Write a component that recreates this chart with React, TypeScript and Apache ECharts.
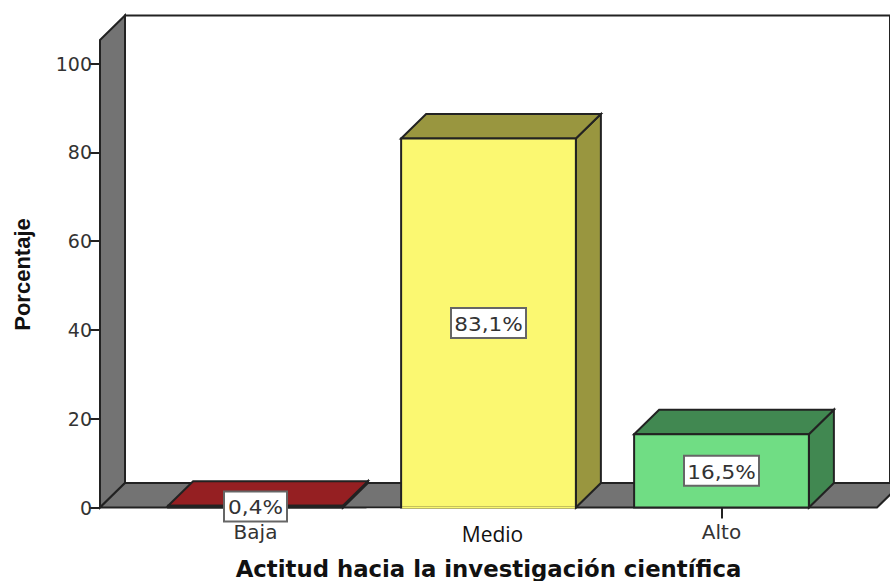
import React, { useEffect, useRef } from "react";
import * as echarts from "echarts";

const categories = ["Baja", "Medio", "Alto"];
const values = [0.4, 83.1, 16.5];
const labelTexts = ["0,4%", "83,1%", "16,5%"];
const frontColors = ["#8f1d20", "#fbf871", "#70dd84"];
const topColors = ["#951f22", "#99963f", "#418851"];
const sideColors = ["#951f22", "#99963f", "#418851"];
const yTicks = { min: 0, max: 100, interval: 20 };
const wallTopValue = 105.3;
const xAxisTitle = "Actitud hacia la investigación científica";
const yAxisTitle = "Porcentaje";

const DEPTH_X = 25;
const DEPTH_Y = 24.5;
const INK = "#222222";
const WALL = "#737373";

export default function App() {
  const ref = useRef<HTMLDivElement>(null);
  useEffect(() => {
    document.body.style.margin = "0";
    const chart = echarts.init(ref.current!, undefined, { renderer: "svg" });
    const poly = (points: number[][], fill: string, w = 2) => ({
      type: "polygon",
      shape: { points },
      style: { fill, stroke: INK, lineWidth: w, lineJoin: "miter" },
    });
    chart.setOption({
      animation: false,
      backgroundColor: "#ffffff",
      grid: { left: 139, right: 52, top: 63.5, height: 444, containLabel: false, outerBoundsMode: "none" },
      xAxis: {
        type: "category",
        data: categories,
        axisLine: { show: false },
        axisTick: {
          show: true,
          length: 11,
          alignWithLabel: true,
          interval: (i: number) => i !== 1,
          lineStyle: { color: INK, width: 2 },
        },
        axisLabel: {
          margin: 14,
          interval: 0,
          formatter: (v: string) => (v === "Medio" ? `{m|${v}}` : `{a|${v}}`),
          rich: {
            a: { fontFamily: "DejaVu Sans", fontSize: 20, color: "#333333" },
            m: { fontFamily: "Open Sans", fontSize: 21, color: "#111111", padding: [2, 0, 0, 8] },
          },
        },
        name: xAxisTitle,
        nameLocation: "center",
        nameGap: 50,
        nameTextStyle: { fontFamily: "DejaVu Sans", fontWeight: "bold", fontSize: 22.8, color: "#111111" },
      },
      yAxis: {
        type: "value",
        min: yTicks.min,
        max: yTicks.max,
        interval: yTicks.interval,
        offset: 39,
        splitLine: { show: false },
        axisLine: { show: false },
        axisTick: { show: true, length: 11, lineStyle: { color: INK, width: 2 } },
        axisLabel: { margin: 8, fontFamily: "DejaVu Sans", fontSize: 19, color: "#333333" },
        name: yAxisTitle,
        nameLocation: "center",
        nameGap: 67,
        nameTextStyle: {
          fontFamily: "Liberation Sans",
          fontWeight: "bold",
          fontSize: 22,
          color: "#111111",
          padding: [0, 0, 0, 22],
        },
      },
      series: [
        {
          type: "custom",
          name: "frame",
          z: 1,
          silent: true,
          clip: false,
          data: [[0]],
          renderItem: (params: any, api: any) => {
            const c = params.coordSys;
            const y0 = api.coord([0, 0])[1];
            const yTop = api.coord([0, wallTopValue])[1];
            const band = c.width / 3;
            const left = c.x - 39;
            const right = c.x + c.width + 39;
            const gapStart = api.coord([1, 0])[0] - band / 2 - 5.5;
            const bw = band * 0.75;
            const midRight = api.coord([1, 0])[0] + bw / 2;
            return {
              type: "group",
              children: [
                poly([[left + DEPTH_X, yTop - DEPTH_Y], [890, yTop - DEPTH_Y], [890, y0 - DEPTH_Y], [left + DEPTH_X, y0 - DEPTH_Y]], "#ffffff"),
                poly([[left, yTop], [left + DEPTH_X, yTop - DEPTH_Y], [left + DEPTH_X, y0 - DEPTH_Y], [left, y0]], WALL),
                poly([[left, y0], [left + DEPTH_X, y0 - DEPTH_Y], [right + DEPTH_X, y0 - DEPTH_Y], [right, y0]], WALL),
                {
                  type: "rect",
                  shape: { x: gapStart, y: y0 + 1, width: midRight - gapStart, height: 4 },
                  style: { fill: "#ffffff" },
                },
              ],
            };
          },
        },
        {
          type: "custom",
          name: "Porcentaje",
          z: 2,
          clip: false,
          data: values.map((v, i) => [i, v]),
          renderItem: (params: any, api: any) => {
            const i = params.dataIndex;
            const [cx, yv] = api.coord([api.value(0), api.value(1)]);
            const y0 = api.coord([api.value(0), 0])[1];
            const bw = api.size([1, 0])[0] * 0.75;
            const l = cx - bw / 2;
            const r = cx + bw / 2;
            const children: any[] = [
              poly([[r, yv], [r + DEPTH_X, yv - DEPTH_Y], [r + DEPTH_X, y0 - DEPTH_Y], [r, y0]], sideColors[i]),
              poly([[l, yv], [l + DEPTH_X, yv - DEPTH_Y], [r + DEPTH_X, yv - DEPTH_Y], [r, yv]], topColors[i]),
              {
                type: "rect",
                shape: { x: l, y: yv, width: r - l, height: y0 - yv },
                style: { fill: frontColors[i], stroke: INK, lineWidth: 2 },
              },
            ];
            if (i === 1) {
              children.push({
                type: "line",
                shape: { x1: l + 1, y1: y0, x2: r - 1, y2: y0 },
                style: { stroke: frontColors[i], lineWidth: 2 },
              });
            }
            return { type: "group", children };
          },
        },
        {
          type: "custom",
          name: "etiquetas",
          z: 5,
          clip: false,
          silent: true,
          data: values.map((v, i) => [i, v]),
          renderItem: (params: any, api: any) => {
            const i = params.dataIndex;
            const [cx, cy] = api.coord([api.value(0), api.value(1) / 2]);
            const text = labelTexts[i];
            const w = text.length === 4 ? 63 : 75;
            const h = 30;
            return {
              type: "group",
              children: [
                {
                  type: "rect",
                  shape: { x: cx - w / 2, y: cy - h / 2, width: w, height: h },
                  style: { fill: "#ffffff", stroke: "#666666", lineWidth: 2 },
                },
                {
                  type: "text",
                  x: cx,
                  y: cy + 1,
                  scaleX: 1.08,
                  style: {
                    text,
                    x: 0,
                    y: 0,
                    align: "center",
                    verticalAlign: "middle",
                    fontFamily: "DejaVu Sans",
                    fontSize: 20,
                    fill: "#333333",
                  },
                },
              ],
            };
          },
        },
      ],
    });
    return () => chart.dispose();
  }, []);
  return <div ref={ref} style={{ width: 890, height: 581 }} />;
}
